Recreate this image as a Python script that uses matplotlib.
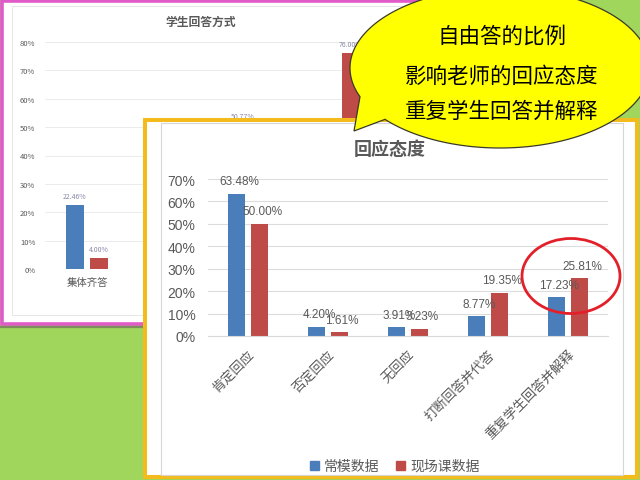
import numpy as np
import matplotlib
matplotlib.use("Agg")
import matplotlib.pyplot as plt
from matplotlib.patches import Rectangle, Ellipse, Polygon, Patch

plt.rcParams['font.family'] = ['Noto Sans CJK SC', 'DejaVu Sans']

# back chart (mostly hidden)
back_title = "学生回答方式"
back_cats = ["集体齐答", "个别回答", "讨论回答", "自由回答"]
back_norm = [22.46, 40.00, 50.77, 15.54]
back_live = [4.00, 35.00, 12.00, 76.00]
back_yticks = [0, 10, 20, 30, 40, 50, 60, 70, 80]

# front chart
front_title = "回应态度"
cats = ["肯定回应", "否定回应", "无回应", "打断回答并代答", "重复学生回答并解释"]
norm = [63.48, 4.20, 3.91, 8.77, 17.23]
live = [50.00, 1.61, 3.23, 19.35, 25.81]
yticks = [0, 10, 20, 30, 40, 50, 60, 70]
series_names = ["常模数据", "现场课数据"]

bubble_lines = ["自由答的比例", "影响老师的回应态度", "重复学生回答并解释"]

BLUE = "#4A7EBB"
RED = "#BE4B48"
GRAY = "#595959"

W, H = 640, 481
fig = plt.figure(figsize=(6.4, 4.81), dpi=100)
fig.patch.set_facecolor("#9FD65B")


def px_axes(x0, y0, x1, y1, z):
    ax = fig.add_axes([x0 / W, 1 - y1 / H, (x1 - x0) / W, (y1 - y0) / H])
    ax.set_zorder(z)
    ax.patch.set_visible(False)
    return ax


def overlay(z):
    ax = px_axes(0, 0, W, H, z)
    ax.set_xlim(0, W)
    ax.set_ylim(H, 0)
    ax.axis("off")
    return ax


# pink panel behind
base = overlay(0)
base.plot([0, 143], [327.5, 327.5], color="#7E8C5E", lw=1.6)
base.add_patch(Rectangle((1.5, 1.5), 480, 323, facecolor="white",
                         edgecolor="#E05BC8", lw=2.6))
base.add_patch(Rectangle((12, 7), 450, 309, facecolor="none",
                         edgecolor="#E2E2E2", lw=0.6))
base.text(201, 22, back_title, ha="center", va="center", fontsize=8.5,
          fontweight="bold", color=GRAY)

axb = px_axes(45, 43, 381, 270, 1)
xb = np.arange(len(back_cats))
bw = 0.214
off = 0.143
b1 = axb.bar(xb - off, back_norm, bw, color=BLUE)
b2 = axb.bar(xb + off, back_live, bw, color=RED)
for bars in (b1, b2):
    for r in bars:
        v = r.get_height()
        axb.annotate(f"{v:.2f}%", (r.get_x() + r.get_width() / 2, v),
                     xytext=(0, 6.5), textcoords="offset points",
                     ha="center", va="center", fontsize=5, color="#8A8AA8")
axb.set_xlim(-0.5, len(back_cats) - 0.5)
axb.set_ylim(0, 80)
axb.set_yticks(back_yticks)
axb.set_yticklabels([f"{v}%" for v in back_yticks])
axb.set_xticks(xb)
axb.set_xticklabels(back_cats)
axb.tick_params(length=0, labelsize=5.5, colors=GRAY, pad=7)
axb.tick_params(axis="x", labelsize=7.5, pad=6)
axb.grid(axis="y", color="#E8E8E8", lw=0.6)
axb.set_axisbelow(True)
for s in axb.spines.values():
    s.set_visible(False)

# front panel
mid = overlay(2)
mid.add_patch(Rectangle((145, 121), 492, 357, facecolor="white",
                        edgecolor="#F3BC1C", lw=2.9))
mid.add_patch(Rectangle((161, 124), 462, 352, facecolor="none",
                        edgecolor="#D6D6D6", lw=0.8))
mid.text(390, 150, front_title, ha="center", va="center", fontsize=13,
         fontweight="bold", color=GRAY)

ax = px_axes(208, 180, 608, 337, 3)
x = np.arange(len(cats))
r1 = ax.bar(x - off, norm, 0.22, color=BLUE, label=series_names[0])
r2 = ax.bar(x + off, live, 0.22, color=RED, label=series_names[1])
for bars in (r1, r2):
    for r in bars:
        v = r.get_height()
        ax.annotate(f"{v:.2f}%", (r.get_x() + r.get_width() / 2, v),
                    xytext=(2, 9), textcoords="offset points",
                    ha="center", va="center", fontsize=8.5, color=GRAY,
                    family="Liberation Sans")
ax.set_xlim(-0.5, len(cats) - 0.5)
ax.set_ylim(0, 70)
ax.set_yticks(yticks)
ax.set_yticklabels([f"{v}%" for v in yticks])
ax.set_xticks(x)
ax.set_xticklabels(cats, rotation=45, ha="right", rotation_mode="anchor")
ax.tick_params(length=0, colors=GRAY)
ax.tick_params(axis="y", labelsize=10, pad=9)
ax.tick_params(axis="x", labelsize=9.5, pad=8)
for lab in ax.get_yticklabels():
    lab.set_family("Liberation Sans")
ax.grid(axis="y", color="#DCDCDC", lw=0.8)
ax.set_axisbelow(True)
for k in ("top", "right", "left"):
    ax.spines[k].set_visible(False)
ax.spines["bottom"].set_color("#D9D9D9")

handles = [Patch(color=BLUE), Patch(color=RED)]
ax.legend(handles, series_names, loc="center", ncol=2, frameon=False,
          bbox_to_anchor=(395 / W, 1 - 467 / H), bbox_transform=fig.transFigure,
          handlelength=0.6, handleheight=0.6, handletextpad=0.4,
          columnspacing=1.2, fontsize=10, labelcolor=GRAY)

# speech bubble + red circle
top = overlay(4)
cx, cy, a, b = 500, 69, 150, 80
t1 = np.arccos((360 - cx) / a)
t2 = np.arccos((385 - cx) / a)
ts = np.linspace(t1, t2 + 2 * np.pi, 400)
pts = np.column_stack([cx + a * np.cos(ts), cy + b * np.sin(ts)])
pts = np.vstack([pts, [[354, 132]]])
top.add_patch(Polygon(pts, closed=True, facecolor="#FFFF00",
                      edgecolor="#3A3A2A", lw=0.9))
for i, line in enumerate(bubble_lines):
    top.text(502, [37, 77, 112][i], line, ha="center", va="center",
             fontsize=15.5, fontweight="medium", color="black")
top.add_patch(Ellipse((571, 277), 98, 75, facecolor="none",
                      edgecolor="#E3202A", lw=2))

fig.savefig("out.png", dpi=100)
